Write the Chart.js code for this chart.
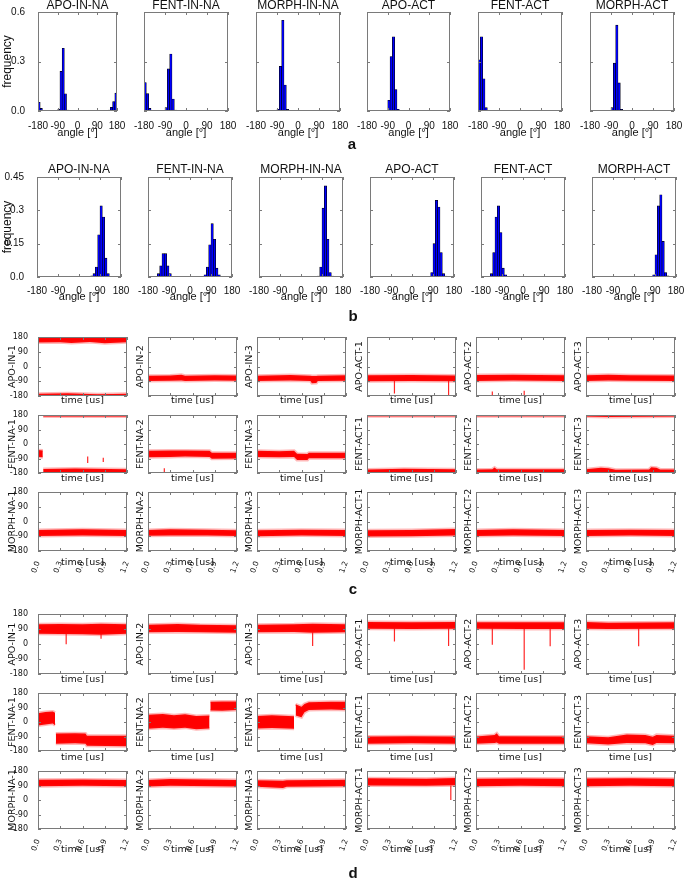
<!DOCTYPE html>
<html>
<head>
<meta charset="utf-8">
<script src="https://cdn.jsdelivr.net/npm/chart.js@4.4.1/dist/chart.umd.min.js"></script>
<style>
  body { margin: 0; background: #fff; }
  #fig { position: relative; width: 685px; height: 878px; overflow: hidden; background: #fff; }
  #fig canvas { position: absolute; }
  .tag { position: absolute; font: bold 15px "Liberation Sans", Arial, sans-serif; color: #111; transform: translate(-50%, -50%); }
</style>
</head>
<body>
<div id="fig"></div>
<script>
// ---- data ----
const histNames = ['APO-IN-NA', 'FENT-IN-NA', 'MORPH-IN-NA', 'APO-ACT', 'FENT-ACT', 'MORPH-ACT'];
const angleTicks = [-180, -90, 0, 90, 180];
const freqTicksA = [0, 0.3, 0.6];
const freqTicksB = [0, 0.15, 0.3, 0.45];

// [bin centre (deg), frequency], 10 deg bins, empty bins left out
const histA_APO_IN_NA = [[-175,.053],[-165,.016],[-155,.004],[-95,.002],[-85,.01],[-75,.24],[-65,.38],[-55,.104],[-45,.005],[-35,.001],[135,.002],[145,.005],[155,.022],[165,.057],[175,.108]];
const histA_FENT_IN_NA = [[-175,.173],[-165,.105],[-155,.016],[-145,.003],[-95,.003],[-85,.02],[-75,.255],[-65,.345],[-55,.073],[-45,.005],[175,.003]];
const histA_MORPH_IN_NA = [[-95,.002],[-85,.01],[-75,.27],[-65,.55],[-55,.157],[-45,.01],[-35,.002]];
const histA_APO_ACT = [[-175,.002],[-95,.003],[-85,.065],[-75,.33],[-65,.45],[-55,.13],[-45,.01],[-35,.002]];
const histA_FENT_ACT = [[-175,.31],[-165,.45],[-155,.195],[-145,.02],[-135,.004],[175,.004]];
const histA_MORPH_ACT = [[-95,.003],[-85,.02],[-75,.29],[-65,.52],[-55,.17],[-45,.01],[-35,.002]];

const histB_APO_IN_NA = [[55,.005],[65,.015],[75,.045],[85,.19],[95,.32],[105,.27],[115,.085],[125,.015],[135,.003]];
const histB_FENT_IN_NA = [[-135,.015],[-125,.05],[-115,.105],[-105,.105],[-95,.05],[-85,.015],[-75,.003],[65,.01],[75,.045],[85,.145],[95,.24],[105,.17],[115,.04],[125,.01]];
const histB_MORPH_IN_NA = [[75,.004],[85,.045],[95,.31],[105,.41],[115,.17],[125,.02],[135,.004]];
const histB_APO_ACT = [[5,.003],[15,.003],[25,.003],[85,.02],[95,.15],[105,.345],[115,.315],[125,.11],[135,.015],[145,.004]];
const histB_FENT_ACT = [[-135,.015],[-125,.11],[-115,.27],[-105,.32],[-95,.2],[-85,.04],[-75,.01]];
const histB_MORPH_ACT = [[85,.01],[95,.1],[105,.32],[115,.37],[125,.16],[135,.02],[145,.005]];

const timeTicks = [0, 0.3, 0.6, 0.9, 1.2];
const dihedralTicks = [-180, -90, 0, 90, 180];
const runNames = [
  ['APO-IN-1', 'APO-IN-2', 'APO-IN-3', 'APO-ACT-1', 'APO-ACT-2', 'APO-ACT-3'],
  ['FENT-NA-1', 'FENT-NA-2', 'FENT-NA-3', 'FENT-ACT-1', 'FENT-ACT-2', 'FENT-ACT-3'],
  ['MORPH-NA-1', 'MORPH-NA-2', 'MORPH-NA-3', 'MORPH-ACT-1', 'MORPH-ACT-2', 'MORPH-ACT-3']
];

// trajectory envelopes: per panel a list of bands, each band [time (us), low, high] (deg)
const bandsC1 = [
  [[[0,146,180],[0.3,148,180],[0.45,143,180],[0.7,150,180],[0.9,142,180],[1.2,148,180]],
   [[0,-180,-167],[0.4,-180,-163],[0.8,-180,-169],[1.2,-180,-166]]],
  [[[0,-88,-56],[0.3,-87,-55],[0.45,-85,-50],[0.5,-88,-56],[0.9,-86,-54],[1.2,-87,-55]]],
  [[[0,-88,-56],[0.45,-86,-52],[0.72,-88,-56],[0.74,-102,-58],[0.8,-101,-58],[0.82,-88,-56],[1.2,-87,-54]]],
  [[[0,-90,-54],[0.6,-88,-52],[1.2,-90,-55]]],
  [[[0,-88,-52],[0.5,-86,-51],[1.2,-88,-54]]],
  [[[0,-88,-53],[0.3,-86,-50],[0.6,-87,-53],[1.2,-88,-55]]]
];
const spikesC1 = [[], [], [], [[0.37,-165,-60],[1.1,-175,-60]], [[0.22,-178,-152],[0.65,-178,-148]], []];

const bandsC2 = [
  [[[0,-80,-38],[0.065,-82,-40]],
   [[0.07,-180,-155],[0.5,-180,-152],[1.2,-180,-157]],
   [[0.07,171,180],[1.2,171,180]]],
  [[[0,-82,-42],[0.3,-80,-40],[0.5,-78,-40],[0.83,-80,-42],[0.86,-92,-55],[1.2,-90,-55]]],
  [[[0,-80,-42],[0.3,-82,-45],[0.5,-80,-42],[0.54,-100,-60],[0.68,-100,-62],[0.7,-88,-55],[1.2,-88,-55]]],
  [[[0,172,180],[1.2,172,180]], [[0,-180,-158],[0.5,-180,-154],[1.2,-180,-156]]],
  [[[0,172,180],[1.2,172,180]], [[0,-180,-158],[0.22,-180,-156],[0.25,-180,-146],[0.28,-180,-157],[1.2,-180,-156]]],
  [[[0,170,180],[0.3,168,180],[1.2,170,180]],
   [[0,-180,-156],[0.2,-180,-148],[0.3,-180,-150],[0.4,-180,-160],[0.85,-180,-158],[0.88,-180,-145],[0.95,-180,-148],[1.0,-180,-158],[1.2,-180,-158]]]
];
const spikesC2 = [[[0.67,-118,-78],[0.88,-112,-85]], [[0.22,-178,-150]], [], [], [], []];

const bandsC3 = [
  [[[0,-88,-52],[0.6,-86,-48],[1.2,-88,-52]]],
  [[[0,-87,-52],[0.3,-85,-48],[0.8,-86,-50],[1.2,-88,-53]]],
  [[[0,-90,-53],[0.6,-86,-50],[1.2,-88,-52]]],
  [[[0,-92,-54],[0.6,-90,-52],[1.2,-86,-46]]],
  [[[0,-88,-52],[0.5,-86,-48],[1.2,-88,-52]]],
  [[[0,-88,-52],[0.6,-86,-50],[1.2,-88,-52]]]
];
const spikesC3 = [[], [], [], [], [], []];

const bandsD1 = [
  [[[0,62,118],[0.3,60,120],[0.6,58,118],[0.85,55,122],[1.2,62,118]]],
  [[[0,70,115],[0.4,72,120],[0.7,70,115],[1.2,68,112]]],
  [[[0,70,115],[0.5,72,118],[0.75,68,122],[1.2,70,118]]],
  [[[0,92,132],[0.6,90,130],[1.2,92,132]]],
  [[[0,92,130],[0.6,90,131],[1.2,90,130]]],
  [[[0,92,132],[0.3,90,128],[1.2,92,130]]]
];
const spikesD1 = [[[0.38,-2,70],[0.85,32,70]], [], [[0.75,-12,70]], [[0.37,15,95],[1.1,-12,95]], [[0.22,-4,95],[0.65,-154,95],[1.0,-14,95]], [[0.71,-14,95]]];

const bandsD2 = [
  [[[0,-22,55],[0.1,-15,62],[0.2,-10,65],[0.23,-20,58]],
   [[0.24,-135,-72],[0.5,-132,-70],[0.64,-135,-72],[0.66,-148,-85],[1.2,-150,-85]]],
  [[[0,-42,45],[0.2,-35,50],[0.35,-40,42],[0.5,-35,48],[0.65,-45,38],[0.83,-40,40]],
   [[0.84,72,125],[1.0,70,128],[1.2,75,128]]],
  [[[0,-40,38],[0.2,-38,42],[0.5,-42,35]],
   [[0.52,40,110],[0.6,30,95],[0.64,60,112],[0.7,75,122],[1.0,78,125],[1.2,75,125]]],
  [[[0,-135,-90],[0.6,-132,-88],[1.2,-135,-90]]],
  [[[0,-135,-90],[0.25,-130,-80],[0.28,-128,-70],[0.31,-135,-88],[1.2,-135,-90]]],
  [[[0,-132,-88],[0.3,-140,-95],[0.55,-130,-78],[0.8,-132,-80],[0.9,-142,-92],[0.95,-130,-80],[1.2,-132,-85]]]
];
const spikesD2 = [[], [], [], [], [], []];

const bandsD3 = [
  [[[0,85,125],[0.6,88,128],[1.2,85,124]]],
  [[[0,84,124],[0.3,88,130],[1.2,84,124]]],
  [[[0,82,122],[0.35,75,120],[0.4,82,122],[1.2,86,126]]],
  [[[0,90,135],[0.8,88,132],[1.2,92,136]]],
  [[[0,86,132],[0.6,88,134],[1.2,86,132]]],
  [[[0,86,133],[0.6,88,135],[1.2,86,132]]]
];
const spikesD3 = [[], [], [], [[1.13,0,90]], [], []];

// ---- layout ----
const HF = '"Liberation Sans", Arial, sans-serif';
const TF = '"DejaVu Sans", sans-serif';
const INK = '#111';
const fig = document.getElementById('fig');

const histRows = [
  { top: 12, h: 99, lefts: [38, 144, 256, 367, 478, 590], widths: [79, 84, 84, 83, 84, 84], ymax: 0.6, ticks: freqTicksA, titleGap: 6, tickPad: 1, xTitle: 21.5,
    data: [histA_APO_IN_NA, histA_FENT_IN_NA, histA_MORPH_IN_NA, histA_APO_ACT, histA_FENT_ACT, histA_MORPH_ACT] },
  { top: 177, h: 100, lefts: [37, 148, 259, 370, 481, 592], widths: [84, 84, 84, 84, 84, 84], ymax: 0.45, ticks: freqTicksB, titleGap: 7, tickPad: 0, xTitle: 20,
    data: [histB_APO_IN_NA, histB_FENT_IN_NA, histB_MORPH_IN_NA, histB_APO_ACT, histB_FENT_ACT, histB_MORPH_ACT] }
];
const timeLefts = [38, 148, 257, 367, 476, 586];
const timeSections = [
  { tops: [337, 415, 492], heights: [59, 58, 59], xTitle: [5, 6, 11.5], bands: [bandsC1, bandsC2, bandsC3], spikes: [spikesC1, spikesC2, spikesC3] },
  { tops: [614, 693, 771], heights: [60, 58, 58], xTitle: [5.5, 6.5, 20.5], bands: [bandsD1, bandsD2, bandsD3], spikes: [spikesD1, spikesD2, spikesD3] }
];

function addCanvas(x, y, w, h) {
  const c = document.createElement('canvas');
  c.width = w; c.height = h;
  c.style.left = x + 'px'; c.style.top = y + 'px';
  c.style.width = w + 'px'; c.style.height = h + 'px';
  fig.appendChild(c);
  return c;
}

// matplotlib-like box with inward ticks on all sides, plus panel title
const framePlugin = {
  id: 'frame',
  afterDraw(chart, args, opts) {
    const { ctx, chartArea: a } = chart;
    const { x, y } = chart.scales;
    ctx.save();
    ctx.strokeStyle = '#7a7a7a';
    ctx.lineWidth = 1;
    ctx.beginPath();
    x.ticks.forEach(t => {
      const p = Math.round(x.getPixelForValue(t.value)) + 0.5;
      ctx.moveTo(p, a.top); ctx.lineTo(p, a.top + 3);
      ctx.moveTo(p, a.bottom); ctx.lineTo(p, a.bottom - 3);
    });
    y.ticks.forEach(t => {
      const p = Math.round(y.getPixelForValue(t.value)) + 0.5;
      ctx.moveTo(a.left, p); ctx.lineTo(a.left + 3, p);
      ctx.moveTo(a.right, p); ctx.lineTo(a.right - 3, p);
    });
    ctx.stroke();
    ctx.strokeRect(a.left + 0.5, a.top + 0.5, a.right - a.left - 1, a.bottom - a.top - 1);
    if (opts.title) {
      ctx.fillStyle = INK;
      ctx.font = '12px ' + HF;
      ctx.textAlign = 'center';
      ctx.textBaseline = 'middle';
      ctx.fillText(opts.title, (a.left + a.right) / 2, a.top - opts.gap);
    }
    ctx.restore();
  }
};

const fmtFreq = v => { const s = String(Math.round(v * 100) / 100); return s.includes('.') ? s : s + '.0'; };

function histPanel(row, col) {
  const g = histRows[row];
  const bx = g.lefts[col], bw = g.widths[col];
  const first = col === 0;
  const L = first ? bx : 16, R = 16, T = 16, B = 30;
  const cv = addCanvas(bx - L, g.top - T, L + bw + R, T + g.h + B);
  new Chart(cv, {
    type: 'bar',
    data: {
      datasets: [{
        data: g.data[col].map(p => ({ x: p[0], y: p[1] })),
        backgroundColor: '#0000ff', borderColor: '#000', borderWidth: 0.6,
        barPercentage: 1, categoryPercentage: 1
      }]
    },
    options: {
      responsive: false, animation: false, devicePixelRatio: 1, events: [],
      layout: { padding: { top: T, right: R, left: 0, bottom: 0 } },
      plugins: { legend: { display: false }, tooltip: { enabled: false }, frame: { title: histNames[col], gap: g.titleGap } },
      scales: {
        x: {
          type: 'linear', min: -180, max: 180, offset: false,
          afterBuildTicks: s => { s.ticks = angleTicks.map(v => ({ value: v })); },
          afterFit: s => { s.height = B; },
          grid: { display: false }, border: { display: false },
          ticks: { font: { family: HF, size: 10 }, color: INK, padding: g.tickPad, maxRotation: 0, autoSkip: false },
          title: { display: true, text: 'angle [°]', font: { family: HF, size: 11 }, color: INK, padding: { top: 0, bottom: B - g.xTitle - 6.6 } }
        },
        y: {
          type: 'linear', min: 0, max: g.ymax,
          afterBuildTicks: s => { s.ticks = g.ticks.map(v => ({ value: v })); },
          afterFit: s => { s.width = L; },
          grid: { display: false }, border: { display: false },
          ticks: { display: first, font: { family: HF, size: 10 }, color: INK, padding: 5, callback: fmtFreq },
          title: { display: first, text: 'frequency', font: { family: HF, size: 12 }, color: INK, padding: { top: 0, bottom: 0 } }
        }
      }
    },
    plugins: [framePlugin]
  });
}

function timePanel(sec, r, c) {
  const S = timeSections[sec];
  const by = S.tops[r], bh = S.heights[r], bx = timeLefts[c], bw = 89;
  const first = c === 0, last = r === 2;
  const L = first ? 40 : 16, R = 14, T = 8, B = 40;
  const cv = addCanvas(bx - L, by - T, L + bw + R, T + bh + B);
  const datasets = [];
  S.bands[r][c].forEach(band => {
    const edge = { type: 'line', pointRadius: 0, borderWidth: 3, borderColor: 'rgba(255,20,20,0.3)', tension: 0, clip: 0 };
    datasets.push({ ...edge, data: band.map(p => ({ x: p[0], y: p[1] })), fill: false });
    datasets.push({ ...edge, data: band.map(p => ({ x: p[0], y: p[2] })), fill: '-1', backgroundColor: '#ff0000' });
  });
  S.spikes[r][c].forEach(sp => {
    datasets.push({ type: 'line', pointRadius: 0, borderWidth: 1.2, borderColor: 'rgba(255,0,0,0.85)', fill: false, clip: 0,
      data: [{ x: sp[0], y: sp[1] }, { x: sp[0], y: sp[2] }] });
  });
  new Chart(cv, {
    type: 'line',
    data: { datasets },
    options: {
      responsive: false, animation: false, devicePixelRatio: 1, events: [],
      layout: { padding: { top: T, right: R, left: 0, bottom: 0 } },
      plugins: { legend: { display: false }, tooltip: { enabled: false }, frame: {} },
      scales: {
        x: {
          type: 'linear', min: 0, max: 1.2,
          afterBuildTicks: s => { s.ticks = timeTicks.map(v => ({ value: v })); },
          afterFit: s => { s.height = B; },
          grid: { display: false }, border: { display: false },
          ticks: { display: last, font: { family: TF, size: 7.5 }, color: INK, padding: 1, minRotation: 70, maxRotation: 70, autoSkip: false, callback: v => v.toFixed(1) },
          title: { display: true, text: 'time [us]', font: { family: TF, size: 9.5 }, color: INK, padding: { top: 0, bottom: B - S.xTitle[r] - 5.7 } }
        },
        y: {
          type: 'linear', min: -180, max: 180,
          afterBuildTicks: s => { s.ticks = dihedralTicks.map(v => ({ value: v })); },
          afterFit: s => { s.width = L; },
          grid: { display: false }, border: { display: false },
          ticks: { display: first, font: { family: TF, size: 8 }, color: INK, padding: 2, callback: v => String(v) },
          title: { display: true, text: runNames[r][c], font: { family: TF, size: 9.5 }, color: INK, padding: { top: first ? 9.3 : 3.3, bottom: 0 } }
        }
      }
    },
    plugins: [framePlugin]
  });
}

for (let row = 0; row < 2; row++) for (let col = 0; col < 6; col++) histPanel(row, col);
for (let sec = 0; sec < 2; sec++) for (let r = 0; r < 3; r++) for (let c = 0; c < 6; c++) timePanel(sec, r, c);

[['a', 352, 143], ['b', 353, 315], ['c', 353, 588], ['d', 353, 872]].forEach(([t, x, y]) => {
  const d = document.createElement('div');
  d.className = 'tag';
  d.textContent = t;
  d.style.left = x + 'px';
  d.style.top = y + 'px';
  fig.appendChild(d);
});
</script>
</body>
</html>
